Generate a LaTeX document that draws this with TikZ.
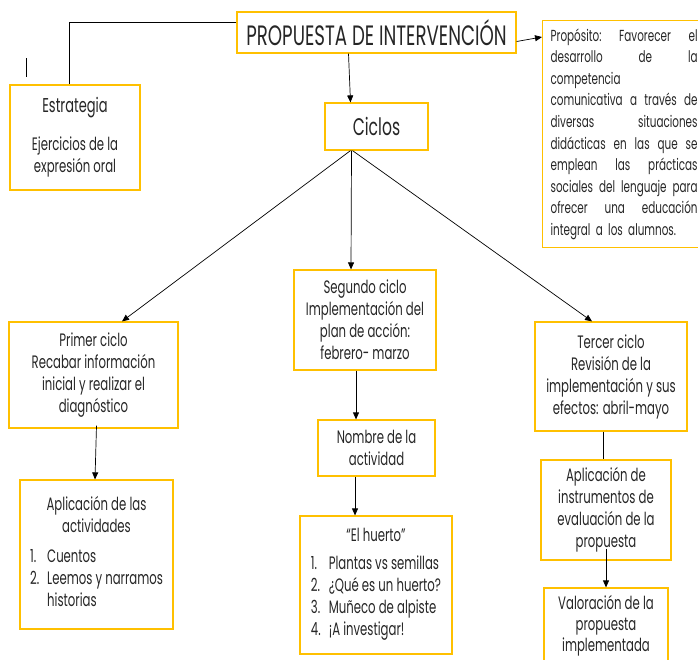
\documentclass[tikz,border=0pt]{standalone}
\usepackage{fontspec}
\setmainfont{Poppins}[FakeStretch=0.65]
\usepackage{tikz}
\usetikzlibrary{positioning,calc,arrows.meta}
\definecolor{amarillo}{HTML}{FFC000}
\definecolor{texto}{HTML}{262626}

\begin{document}
\begin{tikzpicture}[x=1pt,y=-1pt,
                    caja/.style={draw=amarillo, line width=1.2pt, align=center, inner sep=0pt, text=texto, font=\fontsize{18}{22}\selectfont},
                    flecha/.style={-{Triangle[length=7pt,width=6pt]}, line width=0.7pt}]
                    \useasboundingbox (0,0) rectangle (698,659);
                    \node[caja, minimum width=279, minimum height=41, font=\fontsize{28}{30}\selectfont] (titulo) at (376.5,32.5) {PROPUESTA DE INTERVENCIÓN};
                    \node[caja, anchor=north west, text width=147pt, minimum height=227, inner xsep=8pt, align=left, font=\fontsize{16}{21.6}\selectfont] (proposito) at (542,20) {Propósito:\hfill Favorecer\hfill el\\ desarrollo\hfill de\hfill la\\ competencia\\ comunicativa\hfill a\hfill través\hfill de\\ diversas\hfill situaciones\\ didácticas\hfill en\hfill las\hfill que\hfill se\\ emplean\hfill las\hfill prácticas\\ sociales\hfill del\hfill lenguaje\hfill para\\ ofrecer\hfill una\hfill educación\\ integral a los alumnos.};
                    \node[caja, minimum width=130, minimum height=105] (estrategia) at (75,137.5) {{\fontsize{20}{22}\selectfont Estrategia}\\[16pt]Ejercicios de la\\expresión oral};
                    \node[caja, minimum width=103, minimum height=47, font=\fontsize{24}{26}\selectfont] (ciclos) at (376.5,126.5) {Ciclos};
                    \node[caja, minimum width=169, minimum height=106] (primer) at (93.5,375) {Primer ciclo\\Recabar información\\inicial y realizar el\\diagnóstico};
                    \node[caja, minimum width=153, minimum height=149] (aplicacion) at (96.5,554.5) {Aplicación de las\\actividades\\[14pt]\begin{tabular}{@{}l@{\hspace{8pt}}l@{}}1.&Cuentos\\2.&Leemos y narramos\\&historias\end{tabular}};
                    \node[caja, minimum width=142, minimum height=100] (segundo) at (365,320) {Segundo ciclo\\Implementación del\\plan de acción:\\febrero- marzo};
                    \node[caja, minimum width=117, minimum height=56] (nombre) at (376.5,448) {Nombre de la\\actividad};
                    \node[caja, minimum width=152, minimum height=138] (huerto) at (376,585) {“El huerto”\\[12pt]\begin{tabular}{@{}l@{\hspace{8pt}}l@{}}1.&Plantas vs semillas\\2.&¿Qué es un huerto?\\3.&Muñeco de alpiste\\4.&¡A investigar!\end{tabular}};
                    \node[caja, minimum width=152, minimum height=109] (tercer) at (611,376.5) {Tercer ciclo\\Revisión de la\\implementación y sus\\efectos: abril-mayo};
                    \node[caja, minimum width=130, minimum height=100] (instrumentos) at (606,510) {Aplicación de\\instrumentos de\\evaluación de la\\propuesta};
                    \node[caja, minimum width=124, minimum height=76, font=\fontsize{18}{21}\selectfont] (valoracion) at (606,626) {Valoración de la\\propuesta\\implementada};
                    \coordinate (trazo) at (26,58);
                    \draw[line width=0.7pt] (trazo) -- ++(0,19);
                    \draw[line width=0.7pt] ([yshift=10pt]titulo.west) -| ([xshift=-6pt]estrategia.north);
                    \draw[flecha] ([yshift=-9pt]titulo.east) -- ([yshift=-17pt]proposito.north west);
                    \draw[flecha] ([xshift=-28pt]titulo.south) -- ([xshift=-26pt]ciclos.north);
                    \draw[flecha] ([xshift=-26pt]ciclos.south) -- ([xshift=28.5pt]primer.north);
                    \draw[flecha] ([xshift=-25pt]ciclos.south) -- ([xshift=-14pt]segundo.north);
                    \draw[flecha] ([xshift=-24pt]ciclos.south) -- ([xshift=-19pt]tercer.north);
                    \draw[flecha] ([yshift=3pt]aplicacion.north |- primer.south) -- ([xshift=-1.5pt]aplicacion.north);
                    \draw[flecha] ([xshift=-9pt]segundo.south) -- ([xshift=-9pt]segundo.south |- nombre.north);
                    \draw[flecha] ([xshift=-21.5pt]nombre.south) -- ([xshift=-21.5pt]nombre.south |- huerto.north);
                    \draw[line width=0.7pt] ([xshift=-8pt]tercer.south) -- ([xshift=-8pt]tercer.south |- instrumentos.north);
                    \draw[flecha] ([yshift=12pt]instrumentos.south) -- (valoracion.north);
                \end{tikzpicture}
\end{document}
